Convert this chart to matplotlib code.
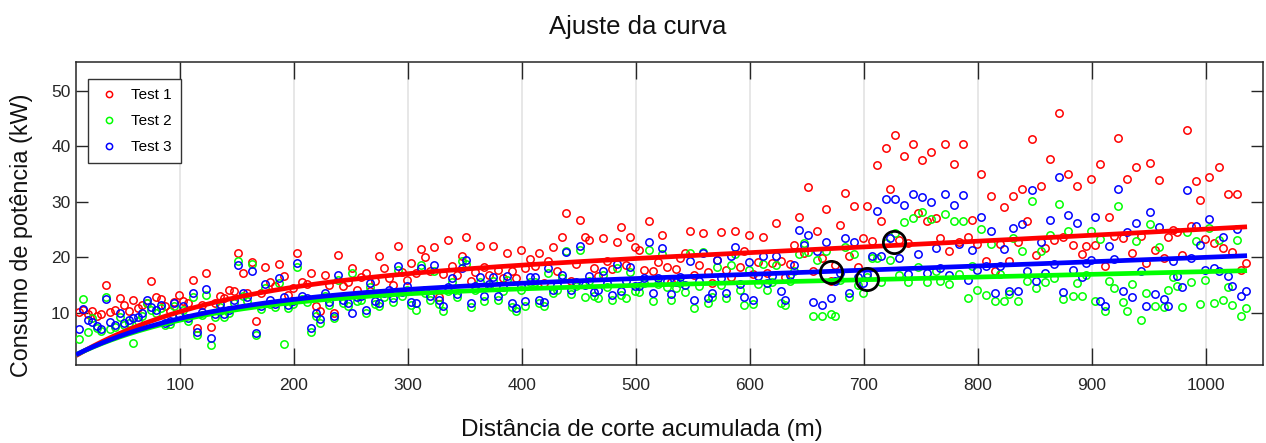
import numpy as np
import matplotlib
matplotlib.use("Agg")
import matplotlib.pyplot as plt

# ---------------- data ----------------
distance_m = np.arange(11, 1036, 4)  # measurement grid (m)

test1_kw = [
    # 11-107
    10.2, 10.5, 9.8, 10.4, 9.5, 9.8, 15.0, 10.1, 10.6, 12.7, 11.5, 10.3, 12.4, 10.8, 11.5, 11.8, 15.8, 12.9, 12.5, 11.2, 10.3, 12.0, 13.2, 12.2, 11.8,
    # 111-207
    15.9, 7.3, 11.4, 17.2, 7.4, 11.8, 13.0, 12.6, 14.2, 14.0, 20.8, 17.2, 13.6, 19.2, 8.6, 13.5, 18.3, 15.6, 14.8, 18.8, 16.7, 13.2, 14.4, 20.8, 15.5,
    # 211-307
    15.2, 17.2, 11.2, 10.3, 16.8, 15.0, 9.9, 20.5, 14.8, 15.6, 18.1, 14.2, 16.4, 17.1, 14.0, 15.8, 20.2, 18.1, 16.2, 15.0, 22.1, 17.4, 16.0, 19.0, 17.2,
    # 311-407
    21.5, 20.1, 17.6, 21.8, 12.9, 17.0, 23.2, 18.4, 16.8, 20.3, 23.6, 15.8, 17.4, 22.1, 18.2, 16.9, 22.1, 17.8, 16.3, 20.8, 17.5, 16.2, 21.4, 18.0, 19.7,
    # 411-507
    18.5, 20.7, 15.4, 19.4, 21.8, 17.6, 23.6, 27.9, 15.7, 18.8, 26.7, 23.7, 23.1, 18.0, 16.6, 23.5, 19.4, 17.9, 22.7, 25.5, 18.6, 23.6, 21.9, 21.4, 17.8,
    # 511-607
    26.5, 17.6, 19.2, 24.1, 18.2, 15.6, 17.9, 19.8, 20.8, 24.8, 16.8, 18.6, 24.3, 17.4, 15.3, 19.6, 24.5, 17.8, 16.4, 24.8, 18.2, 21.1, 24.1, 17.0, 19.2,
    # 611-707
    23.6, 17.2, 19.0, 26.2, 19.3, 16.4, 18.8, 22.3, 27.3, 20.8, 32.6, 17.6, 24.8, 19.8, 28.7, 15.8, 18.6, 25.8, 31.6, 20.2, 29.3, 18.2, 23.4, 29.3, 22.9,
    # 711-807
    36.7, 26.6, 39.7, 32.4, 42.1, 23.2, 38.3, 22.6, 40.4, 28.0, 37.5, 26.6, 38.9, 27.0, 23.4, 40.4, 21.2, 36.9, 22.8, 40.4, 23.6, 26.7, 22.4, 35.0, 19.3,
    # 811-907
    31.1, 17.6, 22.4, 29.0, 19.3, 31.0, 22.8, 32.3, 26.6, 41.3, 20.4, 32.8, 21.6, 37.7, 23.1, 46.0, 23.7, 35.0, 22.2, 32.9, 20.6, 22.0, 34.1, 22.2, 36.8,
    # 911-1007
    18.4, 27.2, 23.8, 41.5, 23.4, 34.2, 20.8, 36.2, 23.8, 19.0, 37.0, 21.3, 33.9, 19.9, 23.7, 24.9, 24.6, 20.4, 43.0, 25.7, 33.7, 30.3, 23.3, 34.4, 22.6,
    # 1011-1035
    36.2, 21.7, 31.4, 21.0, 31.4, 17.8, 18.9,
]

test2_kw = [
    5.2, 12.5, 6.5, 9.0, 7.2, 6.8, 12.9, 7.0, 7.5, 9.3, 7.8, 8.2, 4.6, 8.6, 9.4, 11.8, 10.6, 10.0, 10.9, 7.8, 8.0, 11.2, 9.4, 10.6, 8.5,
    12.8, 6.0, 9.6, 13.2, 4.2, 9.2, 11.0, 9.2, 10.0, 11.8, 19.4, 13.0, 12.2, 18.8, 6.0, 10.7, 14.5, 11.6, 11.0, 15.3, 4.4, 10.8, 11.6, 18.3, 12.5,
    12.0, 6.5, 9.4, 8.2, 13.0, 11.4, 9.0, 16.0, 11.8, 11.2, 17.2, 12.2, 12.4, 10.0, 14.6, 11.6, 11.2, 12.9, 13.6, 12.0, 17.7, 13.1, 14.2, 11.4, 10.6,
    18.7, 13.6, 12.4, 17.6, 11.6, 10.3, 14.0, 15.6, 12.8, 19.3, 18.8, 11.0, 14.2, 15.6, 12.2, 14.6, 15.8, 12.4, 14.0, 15.9, 11.0, 10.3, 14.2, 11.3, 15.6,
    15.6, 11.8, 11.2, 17.2, 13.6, 14.2, 16.2, 21.2, 13.4, 14.8, 21.4, 12.9, 15.8, 13.0, 12.6, 16.8, 14.6, 12.4, 18.0, 13.2, 12.6, 17.4, 14.0, 13.8, 15.4,
    21.4, 12.1, 15.2, 20.6, 14.6, 12.4, 14.4, 15.4, 13.8, 20.8, 10.9, 14.8, 20.9, 11.8, 12.8, 18.2, 15.0, 12.6, 18.7, 20.6, 14.2, 11.5, 17.8, 11.6, 15.2,
    18.8, 14.2, 15.6, 18.6, 11.7, 11.4, 15.8, 17.6, 20.6, 22.6, 21.0, 9.4, 19.6, 9.4, 21.2, 9.7, 9.4, 16.0, 21.8, 12.9, 20.6, 15.0, 13.6, 16.4, 19.9,
    19.9, 15.6, 22.6, 19.6, 24.4, 16.8, 26.3, 15.6, 27.0, 18.2, 28.2, 15.6, 26.9, 17.6, 15.8, 27.8, 15.2, 26.6, 17.0, 26.6, 12.7, 18.4, 14.2, 25.1, 13.3,
    22.4, 12.1, 17.0, 12.1, 13.4, 23.5, 12.1, 21.2, 15.8, 30.1, 14.4, 21.2, 15.6, 24.0, 16.2, 29.6, 12.5, 24.8, 13.1, 15.4, 13.1, 16.8, 24.8, 12.2, 23.3,
    10.4, 15.8, 14.4, 29.3, 11.9, 10.3, 15.2, 23.0, 8.7, 13.5, 26.0, 11.3, 21.8, 11.1, 14.2, 16.4, 14.8, 11.1, 24.5, 15.6, 22.9, 11.6, 16.0, 25.2, 11.8,
    23.2, 12.3, 14.6, 11.4, 23.2, 9.5, 10.9,
]

test3_kw = [
    7.0, 10.7, 8.7, 8.3, 7.7, 7.0, 12.5, 8.3, 7.8, 10.0, 8.2, 8.7, 9.0, 9.3, 9.9, 12.4, 11.1, 10.5, 11.4, 8.2, 8.5, 11.7, 9.8, 11.2, 9.0,
    13.6, 6.6, 10.1, 14.3, 5.5, 9.8, 11.6, 9.7, 10.5, 12.3, 18.6, 13.6, 12.8, 17.6, 6.4, 11.2, 15.2, 12.4, 11.6, 16.3, 12.8, 11.4, 12.2, 19.0, 13.1,
    12.6, 7.2, 10.0, 8.8, 13.6, 12.0, 9.5, 16.8, 12.4, 11.8, 10.0, 12.8, 13.0, 10.6, 15.3, 12.2, 11.8, 13.5, 14.2, 12.6, 18.4, 13.8, 14.8, 12.0, 11.7,
    18.1, 14.2, 13.0, 18.7, 12.4, 11.2, 14.6, 16.3, 13.4, 18.1, 19.5, 11.8, 14.8, 16.4, 13.0, 15.2, 16.4, 13.0, 14.6, 16.6, 11.8, 10.9, 14.8, 12.1, 16.4,
    16.4, 12.4, 12.0, 18.0, 14.2, 15.0, 16.9, 20.9, 14.2, 15.6, 22.1, 15.1, 16.6, 13.7, 14.2, 17.5, 15.4, 13.3, 18.8, 13.9, 15.8, 18.2, 14.8, 14.8, 16.2,
    22.8, 13.6, 16.2, 21.7, 15.8, 13.4, 15.6, 16.4, 15.0, 19.3, 12.4, 15.8, 20.8, 12.7, 13.6, 19.6, 16.2, 13.6, 20.2, 21.9, 15.2, 12.9, 19.1, 12.4, 16.6,
    20.2, 15.4, 16.6, 20.2, 13.9, 12.4, 16.8, 18.7, 25.0, 22.2, 24.1, 12.0, 21.1, 11.4, 22.8, 12.7, 15.8, 17.2, 23.5, 13.6, 22.8, 16.4, 15.4, 17.0, 20.2,
    28.4, 20.2, 30.6, 23.4, 30.6, 19.9, 29.4, 17.0, 31.4, 20.6, 30.8, 17.2, 29.9, 21.6, 18.0, 31.4, 16.8, 29.4, 22.4, 31.2, 15.9, 21.3, 17.8, 27.2, 18.4,
    24.7, 13.6, 18.4, 21.5, 14.0, 25.3, 14.0, 26.0, 17.6, 32.2, 15.8, 22.8, 17.2, 26.8, 18.8, 34.5, 13.7, 27.6, 17.8, 26.2, 16.4, 19.0, 19.6, 27.2, 12.2,
    11.3, 22.0, 19.7, 32.4, 14.0, 24.5, 12.9, 26.1, 17.5, 11.3, 28.2, 13.4, 25.4, 12.5, 11.2, 19.3, 16.6, 14.6, 32.1, 19.9, 25.7, 22.3, 17.8, 26.9, 18.1,
    17.5, 23.6, 16.6, 14.9, 25.1, 13.0, 13.9,
]

# fitted model y = a*exp(b*x) + c*exp(d*x)
fit_test1 = (16.0, 4.5e-4, -14.8, -0.0082)
fit_test2 = (13.07, 2.875e-4, -11.5, -0.0088)
fit_test3 = (13.33, 4.06e-4, -11.8, -0.0088)

# highlighted points
circle_x = [671, 703, 726]
circle_y = [17.4, 16.1, 22.8]

series_labels = ["Test 1", "Test 2", "Test 3"]
series_colors = ["#ff0000", "#00ff00", "#0000ff"]
x_ticks = [100, 200, 300, 400, 500, 600, 700, 800, 900, 1000]
y_ticks = [10, 20, 30, 40, 50]

# ---------------- plot ----------------
plt.rcParams['font.family'] = ['Liberation Sans', 'DejaVu Sans']
W, H = 1266, 443
fig = plt.figure(figsize=(W / 100, H / 100), dpi=100)
ax = fig.add_axes([76 / W, 1 - 365 / H, (1263 - 76) / W, (365 - 62) / H])

ax.set_xlim(8.8, 1050)
ax.set_ylim(0.6, 55.2)

ys = [test1_kw, test2_kw, test3_kw]
handles = []
for y, lab, col in zip(ys, series_labels, series_colors):
    h, = ax.plot(distance_m, y, linestyle='none', marker='o', ms=5.3,
                 mfc='none', mec=col, mew=1.1, label=lab, zorder=3)
    handles.append(h)

xf = np.linspace(8.8, 1036, 400)
for p, col in zip([fit_test1, fit_test2, fit_test3], series_colors):
    a, b, c, d = p
    ax.plot(xf, a * np.exp(b * xf) + c * np.exp(d * xf), color=col, lw=3.4,
            zorder=4, solid_capstyle='butt')

ax.plot(circle_x, circle_y, linestyle='none', marker='o', ms=16, mfc='none',
        mec='black', mew=2.0, zorder=5)

ax.set_xticks(x_ticks)
ax.set_yticks(y_ticks)
ax.grid(axis='x', color='#e3e3e3', lw=1.2, zorder=0)
ax.set_axisbelow(True)

tick_font = dict(family=['Liberation Sans Narrow', 'Liberation Sans'], size=12.5)
ax.set_xticklabels([str(t) for t in x_ticks], fontdict=tick_font, color='#262626')
ax.set_yticklabels([str(t) for t in y_ticks], fontdict=tick_font, color='#262626')
ax.tick_params(axis='x', direction='in', length=12, width=1.0, top=True,
               pad=9, color='#262626')
ax.tick_params(axis='y', direction='in', length=8.5, width=1.0, right=True,
               pad=4, color='#262626')
for s in ax.spines.values():
    s.set_linewidth(1.1)
    s.set_color('#262626')

leg = ax.legend(handles=handles, loc='upper left',
                bbox_to_anchor=(12 / 1187, 1 - 17 / 303), borderaxespad=0,
                prop=dict(family=['Liberation Sans Narrow', 'Liberation Sans'], size=11),
                fancybox=False, framealpha=1, edgecolor='#333333',
                markerscale=0.85, handlelength=1.6, handletextpad=0.6,
                labelspacing=0.78, borderpad=0.6)
leg.get_frame().set_linewidth(1.0)

fig.text(638 / W, 1 - 27 / H, "Ajuste da curva", ha='center', va='center',
         fontsize=18.5, color='#111111')
fig.text(642 / W, 1 - 430 / H, "Distância de corte acumulada (m)", ha='center',
         va='center', fontsize=17.5, color='#111111')
fig.text(22 / W, 1 - 235 / H, "Consumo de potência (kW)", ha='center',
         va='center', rotation=90, fontsize=16.8, color='#111111')

fig.savefig("out.png", dpi=100)
